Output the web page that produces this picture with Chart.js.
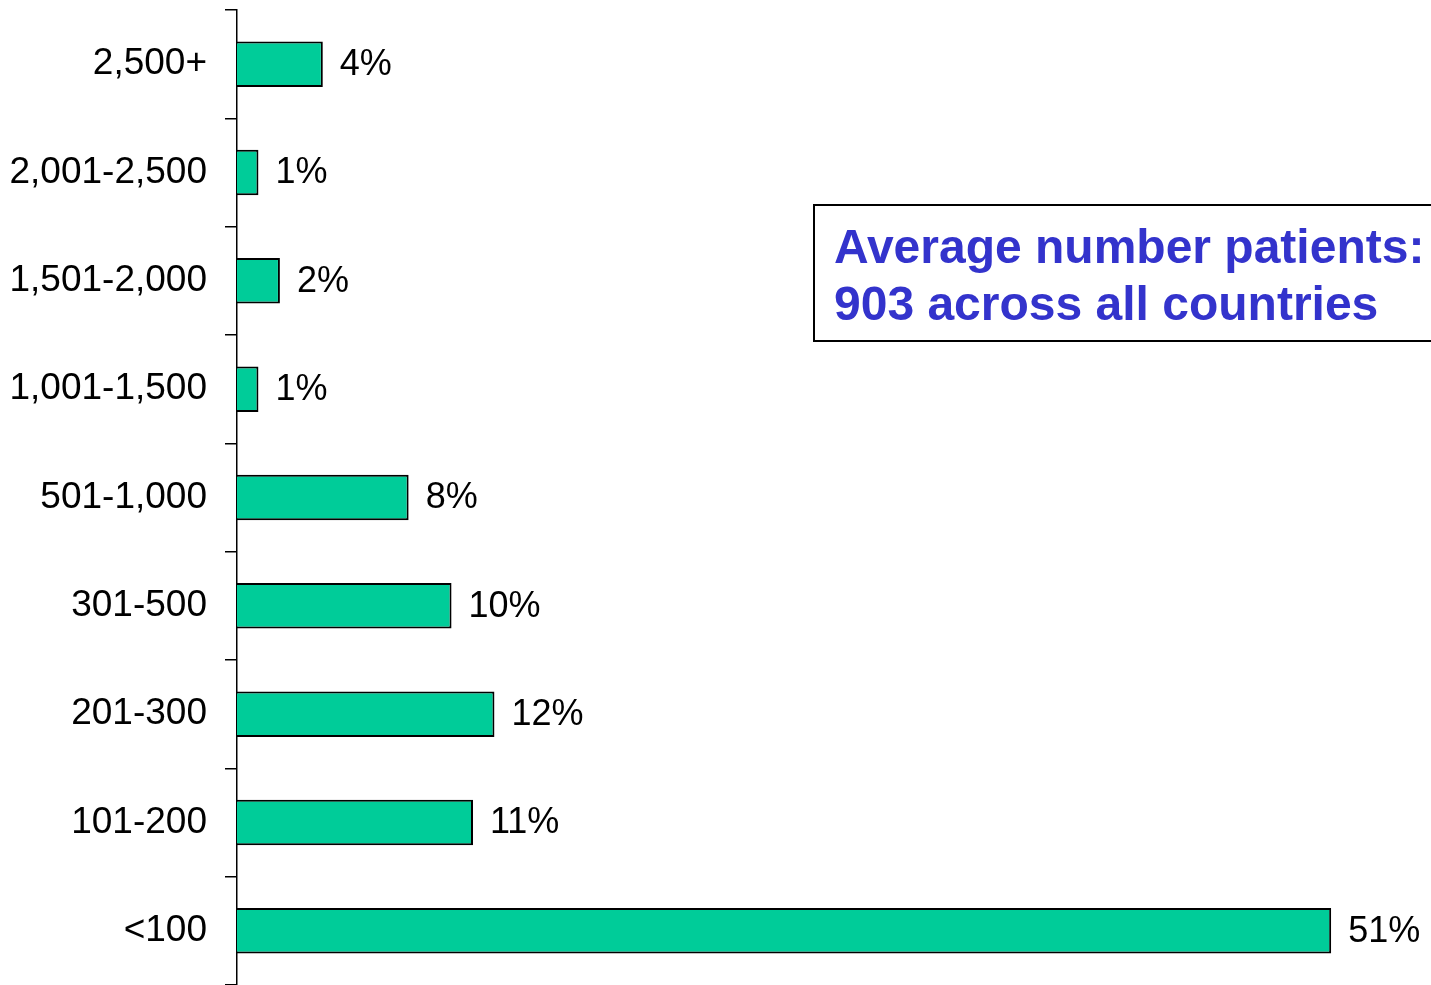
<!DOCTYPE html>
<html>
<head>
<meta charset="utf-8">
<style>
  html, body { margin: 0; padding: 0; background: #ffffff; }
  #wrap { position: relative; width: 1431px; height: 985px; }
</style>
<script src="https://cdn.jsdelivr.net/npm/chart.js@4/dist/chart.umd.min.js"></script>
</head>
<body>
<div id="wrap"><canvas id="chart" width="1431" height="985"></canvas></div>
<script>
// Number of patients per centre, share of centres in each band
const bands = ['2,500+', '2,001-2,500', '1,501-2,000', '1,001-1,500', '501-1,000', '301-500', '201-300', '101-200', '<100'];
const shares = [4, 1, 2, 1, 8, 10, 12, 11, 51];
const noteLines = ['Average number patients:', '903 across all countries'];

const FONT = '"Liberation Sans", Arial, Helvetica, sans-serif';

// Percent labels to the right of each bar
const valueLabels = {
  id: 'valueLabels',
  afterDatasetsDraw(chart) {
    const ctx = chart.ctx;
    const meta = chart.getDatasetMeta(0);
    ctx.save();
    ctx.font = '36px ' + FONT;
    ctx.fillStyle = '#000000';
    ctx.textAlign = 'left';
    ctx.textBaseline = 'middle';
    meta.data.forEach((bar, i) => {
      ctx.fillText(shares[i] + '%', bar.x + 17, bar.y + 1);
    });
    ctx.restore();
  }
};

// Boxed note on the right
const noteBox = {
  id: 'noteBox',
  afterDraw(chart) {
    const ctx = chart.ctx;
    ctx.save();
    ctx.lineWidth = 2;
    ctx.strokeStyle = '#000000';
    ctx.strokeRect(814, 205, 640, 136);
    ctx.font = 'bold 48px ' + FONT;
    ctx.fillStyle = '#3333CC';
    ctx.textAlign = 'left';
    ctx.textBaseline = 'alphabetic';
    ctx.fillText(noteLines[0], 834, 263);
    ctx.fillText(noteLines[1], 834, 320);
    ctx.restore();
  }
};

new Chart(document.getElementById('chart'), {
  type: 'bar',
  data: {
    labels: bands,
    datasets: [{
      data: shares,
      backgroundColor: '#00CC99',
      borderColor: '#000000',
      borderWidth: 2,
      borderSkipped: 'left',
      barPercentage: 0.42,
      categoryPercentage: 1.0
    }]
  },
  options: {
    indexAxis: 'y',
    responsive: false,
    animation: false,
    devicePixelRatio: 1,
    layout: { padding: { top: 10, right: 14, bottom: 0, left: 0 } },
    plugins: {
      legend: { display: false },
      tooltip: { enabled: false }
    },
    scales: {
      x: {
        display: false,
        min: 0,
        max: 55
      },
      y: {
        offset: true,
        afterFit(scale) {
          scale.width = 237;
          scale.paddingTop = 0;
          scale.paddingBottom = 0;
        },
        border: { display: true, color: '#000000', width: 1.5 },
        grid: {
          offset: true,
          drawOnChartArea: false,
          drawTicks: true,
          tickLength: 12,
          color: '#000000',
          lineWidth: 1.5
        },
        ticks: {
          color: '#000000',
          padding: 18,
          font: { family: FONT, size: 37 }
        }
      }
    }
  },
  plugins: [valueLabels, noteBox]
});
</script>
</body>
</html>
